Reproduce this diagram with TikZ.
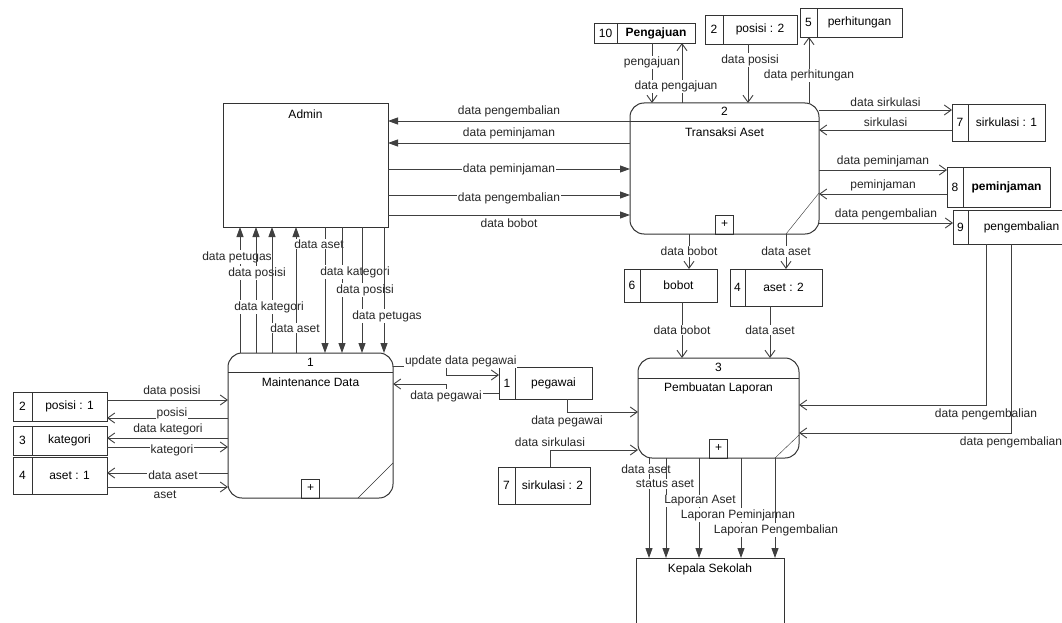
\documentclass[tikz,border=0pt]{standalone}
\usepackage{fontspec}
\setmainfont{Liberation Sans}
\usetikzlibrary{arrows.meta,positioning,calc}

\newcommand\dfdfont{\fontsize{12}{14}\selectfont}

\begin{document}
\begin{tikzpicture}[x=1pt, y=-1pt, font=\dfdfont,
    entity/.style={draw=black!80, line width=1pt, inner sep=0pt, outer sep=0pt},
    process/.style={draw=black!80, line width=1pt, rounded corners=14pt, inner sep=0pt, outer sep=0pt},
    store/.style={draw=black!80, line width=0.9pt, inner sep=0pt, outer sep=0pt},
    plusbox/.style={draw=black!80, line width=0.8pt, minimum width=18pt, minimum height=19pt, inner sep=0pt, outer sep=0pt},
    ptitle/.style={anchor=base, inner sep=0pt},
    conn/.style={draw=black!75, line width=0.9pt},
    ctrl/.style={conn, -{Triangle[length=10pt,width=7pt]}},
    flow/.style={conn, -{Straight Barb[length=7pt,width=10pt]}},
    lbl/.style={fill=white, inner sep=1pt, text=black!85}]

    \useasboundingbox (0,0) rectangle (1062,623);
    \fill[white] (0,0) rectangle (1062,623);
    \clip (0,0) rectangle (1062,623);

    % external entities
    \node[entity, minimum width=165pt, minimum height=123pt] (admin) at (305.5,165.5) {};
    \node[ptitle] (admint) at ($(admin.north)+(0,14)$) {Admin};
    \node[entity, minimum width=148pt, minimum height=110pt] (kepsek) at (710,613) {};
    \node[ptitle] (kepsekt) at ($(kepsek.north)+(0,14)$) {Kepala Sekolah};

    % processes
    \node[process, minimum width=165pt, minimum height=145pt] (mtc) at (310.5,425.5) {};
    \draw[line width=1pt, black!80] ($(mtc.north west)+(0,19)$) -- ($(mtc.north east)+(0,19)$);
    \node[ptitle] (mtcno) at ($(mtc.north)+(0,13)$) {1};
    \node[ptitle] (mtcname) at ($(mtc.north)+(0,33)$) {Maintenance Data};
    \node[plusbox, above=0pt of mtc.south] (mtcplus) {+};
    \draw[black!80] ($(mtc.south east)+(-35,0)$) -- ($(mtc.south east)+(0,-35)$);

    \node[process, minimum width=189pt, minimum height=131pt] (trx) at (724.5,168.5) {};
    \draw[line width=1pt, black!80] ($(trx.north west)+(0,19)$) -- ($(trx.north east)+(0,19)$);
    \node[ptitle] (trxno) at ($(trx.north)+(0,13)$) {2};
    \node[ptitle] (trxname) at ($(trx.north)+(0,33)$) {Transaksi Aset};
    \node[plusbox, above=0pt of trx.south] (trxplus) {+};
    \draw[black!80] ($(trx.south east)+(-33,0)$) -- ($(trx.south east)+(0,-41)$);

    \node[process, minimum width=161pt, minimum height=100pt] (lap) at (718.5,408) {};
    \draw[line width=1pt, black!80] ($(lap.north west)+(0,20)$) -- ($(lap.north east)+(0,20)$);
    \node[ptitle] (lapno) at ($(lap.north)+(0,13)$) {3};
    \node[ptitle] (lapname) at ($(lap.north)+(0,33)$) {Pembuatan Laporan};
    \node[plusbox, above=0pt of lap.south] (lapplus) {+};
    \draw[black!80] ($(lap.south east)+(-24,0)$) -- ($(lap.south east)+(0,-23)$);

    % data stores
    \node[store, minimum width=23pt, minimum height=20pt] (pengajuanid) at (605.5,33) {10};
    \node[store, minimum width=78pt, minimum height=20pt, right=0pt of pengajuanid, font=\dfdfont\bfseries] (pengajuan) {Pengajuan};
    \node[store, minimum width=18pt, minimum height=29pt] (posisiIIid) at (714,29.5) {2};
    \node[store, minimum width=74pt, minimum height=29pt, right=0pt of posisiIIid] (posisiII) {posisi : 2};
    \node[store, minimum width=17pt, minimum height=29pt] (perhitunganid) at (808.5,22.5) {5};
    \node[store, minimum width=85pt, minimum height=29pt, right=0pt of perhitunganid] (perhitungan) {perhitungan};
    \node[store, minimum width=16pt, minimum height=37pt] (sirkulasiIid) at (960,122.5) {7};
    \node[store, minimum width=77pt, minimum height=37pt, right=0pt of sirkulasiIid] (sirkulasiI) {sirkulasi : 1};
    \node[store, minimum width=16pt, minimum height=40pt] (peminjamanid) at (955,187) {8};
    \node[store, minimum width=87pt, minimum height=40pt, right=0pt of peminjamanid, font=\dfdfont\bfseries] (peminjaman) {peminjaman};
    \node[store, minimum width=15pt, minimum height=34pt] (pengembalianid) at (960.5,227) {9};
    \node[store, minimum width=107pt, minimum height=34pt, right=0pt of pengembalianid] (pengembalian) {pengembalian};
    \node[store, minimum width=16pt, minimum height=33pt] (bobotid) at (632,285.5) {6};
    \node[store, minimum width=77pt, minimum height=33pt, right=0pt of bobotid] (bobot) {bobot};
    \node[store, minimum width=15pt, minimum height=37pt] (asetIIid) at (737.5,287.5) {4};
    \node[store, minimum width=77pt, minimum height=37pt, right=0pt of asetIIid] (asetII) {aset : 2};
    \node[store, minimum width=16pt, minimum height=32pt] (pegawaiid) at (507,383) {1};
    \node[store, minimum width=77pt, minimum height=32pt, right=0pt of pegawaiid] (pegawai) {pegawai};
    \node[store, minimum width=17pt, minimum height=37pt] (sirkulasiIIid) at (506.5,485.5) {7};
    \node[store, minimum width=75pt, minimum height=37pt, right=0pt of sirkulasiIIid] (sirkulasiII) {sirkulasi : 2};
    \node[store, minimum width=19pt, minimum height=29pt] (posisiIid) at (22.5,406.5) {2};
    \node[store, minimum width=75pt, minimum height=29pt, right=0pt of posisiIid] (posisiI) {posisi : 1};
    \node[store, minimum width=19pt, minimum height=29pt] (kategoriid) at (22.5,440.5) {3};
    \node[store, minimum width=75pt, minimum height=29pt, right=0pt of kategoriid] (kategori) {kategori};
    \node[store, minimum width=19pt, minimum height=37pt] (asetIid) at (22.5,475.5) {4};
    \node[store, minimum width=75pt, minimum height=37pt, right=0pt of asetIid] (asetI) {aset : 1};

    % admin <-> transaksi aset
    \draw[ctrl] ($(trx.west)+(0,-47.5)$) -- node[lbl, above=3pt] (a1) {data pengembalian} ($(admin.east)+(0,-44.5)$);
    \draw[ctrl] ($(trx.west)+(0,-25.5)$) -- node[lbl, above=3pt] (a2) {data peminjaman} ($(admin.east)+(0,-22.5)$);
    \draw[ctrl] ($(admin.east)+(0,3.5)$) -- node[lbl] (a3) {data peminjaman} ($(trx.west)+(0,0.5)$);
    \draw[ctrl] ($(admin.east)+(0,29.5)$) -- node[lbl, yshift=-3pt] (a4) {data pengembalian} ($(trx.west)+(0,26.5)$);
    \draw[ctrl] ($(admin.east)+(0,49.5)$) -- node[lbl, below=2pt] (a5) {data bobot} ($(trx.west)+(0,46.5)$);

    % maintenance data <-> admin
    \draw[ctrl] ($(mtc.north)+(-70.5,0)$) -- node[lbl, pos=0.762, xshift=-3pt] (b1) {data petugas} ($(admin.south)+(-65.5,0)$);
    \draw[ctrl] ($(mtc.north)+(-54.5,0)$) -- node[lbl, pos=0.635, xshift=1pt] (b2) {data posisi} ($(admin.south)+(-49.5,0)$);
    \draw[ctrl] ($(mtc.north)+(-38.5,0)$) -- node[lbl, pos=0.365, xshift=-3pt] (b3) {data kategori} ($(admin.south)+(-33.5,0)$);
    \draw[ctrl] ($(mtc.north)+(-14.5,0)$) -- node[lbl, pos=0.198, xshift=-1pt] (b4) {data aset} ($(admin.south)+(-9.5,0)$);
    \draw[ctrl] ($(admin.south)+(19.5,0)$) -- node[lbl, pos=0.135, xshift=-6pt] (b5) {data aset} ($(mtc.north)+(14.5,0)$);
    \draw[ctrl] ($(admin.south)+(36.5,0)$) -- node[lbl, pos=0.357, xshift=13pt] (b6) {data kategori} ($(mtc.north)+(31.5,0)$);
    \draw[ctrl] ($(admin.south)+(56.5,0)$) -- node[lbl, pos=0.5, xshift=3pt] (b7) {data posisi} ($(mtc.north)+(51.5,0)$);
    \draw[ctrl] ($(admin.south)+(78.5,0)$) -- node[lbl, pos=0.706, xshift=3pt] (b8) {data petugas} ($(mtc.north)+(73.5,0)$);

    % stores <-> maintenance data
    \draw[flow] ($(posisiI.east)+(0,-6.5)$) -- node[lbl, above=2pt, pos=0.537] (c1) {data posisi} ($(mtc.west)+(0,-25.5)$);
    \draw[flow] ($(mtc.west)+(0,-7.5)$) -- node[lbl, pos=0.463, yshift=5pt] (c2) {posisi} ($(posisiI.east)+(0,11.5)$);
    \draw[flow] ($(mtc.west)+(0,12.5)$) -- node[lbl, above=2pt, pos=0.496] (c3) {data kategori} ($(kategori.east)+(0,-2.5)$);
    \draw[flow] ($(kategori.east)+(0,6.5)$) -- node[lbl, pos=0.537, yshift=-3pt] (c4) {kategori} ($(mtc.west)+(0,21.5)$);
    \draw[flow] ($(mtc.west)+(0,47.5)$) -- node[lbl, pos=0.455, yshift=-2pt] (c5) {data aset} ($(asetI.east)+(0,-2.5)$);
    \draw[flow] ($(asetI.east)+(0,11.5)$) -- node[lbl, below=2pt, pos=0.48] (c6) {aset} ($(mtc.west)+(0,61.5)$);

    % pegawai
    \draw[flow] ($(mtc.east)+(0,-59.5)$) -- node[lbl, pos=0.2, anchor=west, yshift=5pt] (d1) {update data pegawai} ++(53,0) |- ($(pegawaiid.west)+(0,-8)$);
    \draw[flow] ($(pegawaiid.west)+(0,10)$) -- node[lbl, pos=1, yshift=-3pt] (d2) {data pegawai} ++(-53,0) |- ($(mtc.east)+(0,-41.5)$);
    \draw[flow] ($(pegawai.south)+(13.5,0)$) |- node[lbl, pos=0.5, below=2pt] (d3) {data pegawai} ($(lap.west)+(0,4)$);
    \draw[flow] ($(sirkulasiII.north)+(-2.5,0)$) |- node[lbl, pos=0.5, above=2pt] (d4) {data sirkulasi} ($(lap.west)+(0,42)$);

    % transaksi aset top
    \draw[flow] ($(pengajuan.south)+(-4,0)$) -- node[lbl, pos=0.33] (e1) {pengajuan} ($(trx.north)+(-72.5,0)$);
    \draw[flow] ($(trx.north)+(-42.5,0)$) -- node[lbl, pos=0.27, xshift=-6pt] (e2) {data pengajuan} ($(pengajuan.south)+(26,0)$);
    \draw[flow] ($(posisiII.south)+(-12,0)$) -- node[lbl, pos=0.27, xshift=2pt] (e3) {data posisi} ($(trx.north)+(23.5,0)$);
    \draw[flow] ($(trx.north)+(84.5,0)$) -- node[lbl, pos=0.42] (e4) {data perhitungan} ($(perhitunganid.south)+(0.5,0)$);

    % transaksi aset right
    \draw[flow] ($(trx.east)+(0,-58.5)$) -- node[lbl, above=2pt] (f1) {data sirkulasi} ($(sirkulasiIid.west)+(0,-12.5)$);
    \draw[flow] ($(sirkulasiIid.west)+(0,7.5)$) -- node[lbl, above=2pt] (f2) {sirkulasi} ($(trx.east)+(0,-38.5)$);
    \draw[flow] ($(trx.east)+(0,1.5)$) -- node[lbl, above=2pt] (f3) {data peminjaman} ($(peminjamanid.west)+(0,-17)$);
    \draw[flow] ($(peminjamanid.west)+(0,7)$) -- node[lbl, above=2pt] (f4) {peminjaman} ($(trx.east)+(0,25.5)$);
    \draw[flow] ($(trx.east)+(0,54.5)$) -- node[lbl, above=2pt] (f5) {data pengembalian} ($(pengembalianid.west)+(0,-4)$);

    % transaksi aset bottom
    \draw[flow] ($(trx.south)+(-35.5,0)$) -- node[lbl] (g1) {data bobot} ($(bobot.north)+(10.5,0)$);
    \draw[flow] ($(trx.south)+(61.5,0)$) -- node[lbl] (g2) {data aset} ($(asetII.north)+(2.5,0)$);
    \draw[flow] ($(bobot.south)+(3.5,0)$) -- node[lbl] (g3) {data bobot} ($(lap.north)+(-36.5,0)$);
    \draw[flow] ($(asetII.south)+(-13.5,0)$) -- node[lbl, pos=0.46] (g4) {data aset} ($(lap.north)+(51.5,0)$);

    % pengembalian -> pembuatan laporan
    \draw[flow] ($(pengembalian.south)+(-35.5,0)$) |- node[lbl, pos=0.5, below=2pt] (h1) {data pengembalian} ($(lap.east)+(0,-3)$);
    \draw[flow] ($(pengembalian.south)+(-10.5,0)$) |- node[lbl, pos=0.5, below=2pt] (h2) {data pengembalian} ($(lap.east)+(0,25)$);

    % laporan -> kepala sekolah
    \draw[ctrl] ($(lap.south)+(-69.5,0)$) -- node[lbl, pos=0.11, xshift=-3pt] (k1) {data aset} ($(kepsek.north)+(-61,0)$);
    \draw[ctrl] ($(lap.south)+(-52.5,0)$) -- node[lbl, pos=0.26, xshift=-1pt] (k2) {status aset} ($(kepsek.north)+(-44,0)$);
    \draw[ctrl] ($(lap.south)+(-19.5,0)$) -- node[lbl, pos=0.43, xshift=1pt] (k3) {Laporan Aset} ($(kepsek.north)+(-11,0)$);
    \draw[ctrl] ($(lap.south)+(22.5,0)$) -- node[lbl, pos=0.57, xshift=-3pt] (k4) {Laporan Peminjaman} ($(kepsek.north)+(31,0)$);
    \draw[ctrl] ($(lap.south)+(56.5,0)$) -- node[lbl, pos=0.72, xshift=1pt] (k5) {Laporan Pengembalian} ($(kepsek.north)+(65,0)$);
\end{tikzpicture}
\end{document}
